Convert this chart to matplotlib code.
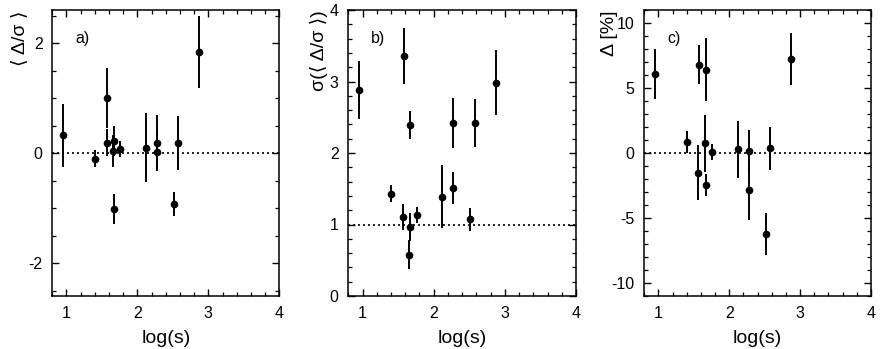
"""Three-panel comparison vs log(s): mean pull, pull width, relative deviation."""

import numpy as np

import matplotlib
matplotlib.use("Agg")
import matplotlib.pyplot as plt
from matplotlib.ticker import MultipleLocator

plt.rcParams.update({
    "font.family": ["Liberation Sans", "DejaVu Sans"],
    "font.size": 11,
    "axes.unicode_minus": False,
    "axes.linewidth": 1.1,
    "xtick.direction": "in",
    "ytick.direction": "in",
    "xtick.top": True,
    "ytick.right": True,
    "xtick.major.size": 5,
    "ytick.major.size": 5,
    "xtick.minor.size": 2.8,
    "ytick.minor.size": 2.8,
    "xtick.major.width": 1.0,
    "ytick.major.width": 1.0,
    "xtick.minor.width": 0.9,
    "ytick.minor.width": 0.9,
    "xtick.major.pad": 7,
    "ytick.major.pad": 7,
})

# log(s) of each measurement (shared by all panels)
log_s = [0.945, 1.40, 1.565, 1.578, 1.652, 1.668, 1.668, 1.76,
         2.118, 2.274, 2.274, 2.515, 2.576, 2.871]

# a) mean pull <Delta/sigma>
pull_mean = [0.32, -0.10, 0.19, 1.00, 0.03, 0.22, -1.02, 0.07,
             0.10, 0.19, 0.02, -0.92, 0.19, 1.84]
pull_mean_err = [0.57, 0.16, 0.24, 0.55, 0.29, 0.27, 0.27, 0.15,
                 0.63, 0.50, 0.35, 0.22, 0.49, 0.65]

# b) width of the pull distribution
pull_width = [2.88, 1.43, 1.105, 3.36, 0.58, 0.97, 2.39, 1.13,
              1.39, 2.42, 1.515, 1.07, 2.42, 2.98]
pull_width_err = [0.40, 0.12, 0.175, 0.39, 0.205, 0.195, 0.20, 0.11,
                  0.44, 0.35, 0.225, 0.16, 0.335, 0.455]

# c) relative deviation Delta [%]
delta_pct = [6.08, 0.87, -1.51, 6.79, 0.74, 6.41, -2.46, 0.08,
             0.28, 0.15, -2.87, -6.23, 0.38, 7.23]
delta_pct_err = [1.90, 0.85, 2.13, 1.52, 2.20, 2.43, 0.82, 0.62,
                 2.20, 1.64, 2.25, 1.60, 1.65, 2.03]

W, H = 883, 349
fig = plt.figure(figsize=(W / 100, H / 100), dpi=100)


def frame(px_left, px_right, px_top=10, px_bottom=296):
    return [px_left / W, 1 - px_bottom / H,
            (px_right - px_left) / W, (px_bottom - px_top) / H]


panels = [
    dict(rect=frame(52.3, 279.3), y=pull_mean, yerr=pull_mean_err,
         ylim=(-2.6, 2.6), major=2, minor=0.5, ref=0.0,
         ylabel="\u27e8 \u0394/\u03c3 \u27e9", tag="a)", ylab_x=-0.18),
    dict(rect=frame(348.3, 576.0), y=pull_width, yerr=pull_width_err,
         ylim=(0, 4), major=1, minor=0.2, ref=1.0,
         ylabel="\u03c3(\u27e8 \u0394/\u03c3 \u27e9)", tag="b)", ylab_x=-0.17),
    dict(rect=frame(644.3, 871.0), y=delta_pct, yerr=delta_pct_err,
         ylim=(-11, 11), major=5, minor=1, ref=0.0,
         ylabel="\u0394 [%]", tag="c)", ylab_x=-0.19),
]

for p in panels:
    ax = fig.add_axes(p["rect"])
    ax.axhline(p["ref"], color="black", linestyle=(0, (1.2, 1.8)), linewidth=1.2)
    ax.errorbar(log_s, p["y"], yerr=p["yerr"], fmt="o", color="black",
                markersize=4.5, elinewidth=1.4, capsize=0)
    ax.set_xlim(0.8, 4.0)
    ax.set_ylim(*p["ylim"])
    ax.xaxis.set_major_locator(MultipleLocator(1))
    ax.xaxis.set_minor_locator(MultipleLocator(0.2))
    ax.yaxis.set_major_locator(MultipleLocator(p["major"]))
    ax.yaxis.set_minor_locator(MultipleLocator(p["minor"]))
    ax.tick_params(labelsize=11.5)
    ax.set_xlabel("log(s)", fontsize=14, labelpad=7)
    ax.set_ylabel(p["ylabel"], fontsize=14)
    ax.yaxis.set_label_coords(p["ylab_x"], 1.0)
    ax.yaxis.label.set_verticalalignment("top")
    ax.yaxis.label.set_horizontalalignment("right")
    ax.text(0.1, 0.9, p["tag"], transform=ax.transAxes, fontsize=11.5,
            ha="left", va="center")

fig.savefig("out.png", dpi=100)
